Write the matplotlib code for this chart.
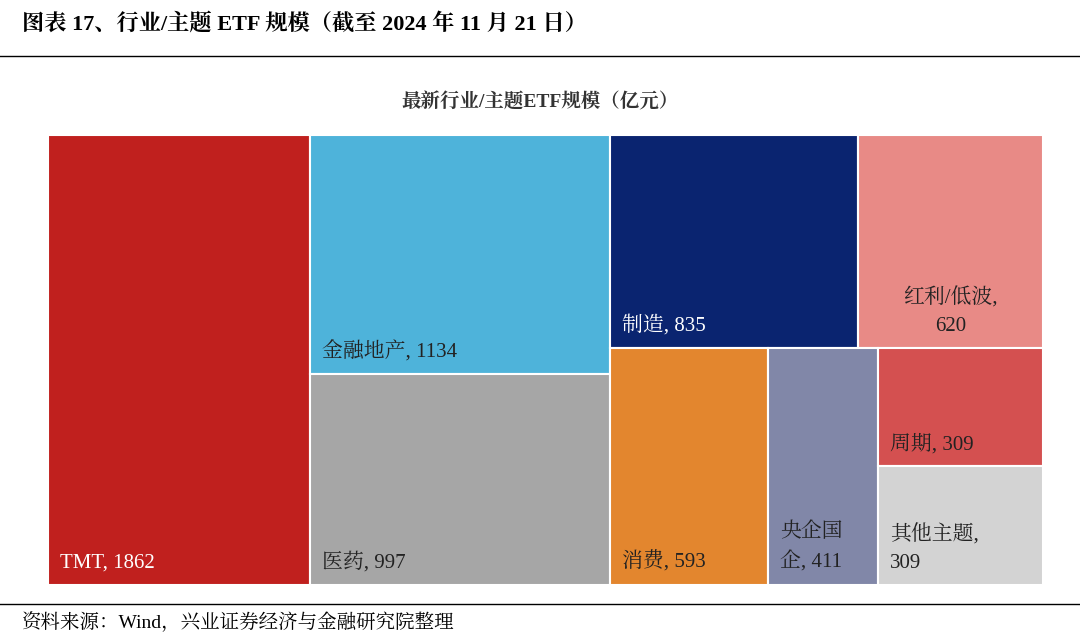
import matplotlib
matplotlib.use("Agg")
import matplotlib.pyplot as plt
from matplotlib.patches import Rectangle
from matplotlib.lines import Line2D

FONT = ["Liberation Serif", "Noto Serif CJK SC", "Noto Sans CJK SC"]
plt.rcParams["font.family"] = FONT

names = ["TMT", "金融地产", "医药", "制造", "红利/低波", "消费", "央企国企", "周期", "其他主题"]
values = [1862, 1134, 997, 835, 620, 593, 411, 309, 309]
colors = ["#C0201E", "#4EB3DA", "#A6A6A6", "#0A2470", "#E88A86",
          "#E3862E", "#8187A8", "#D45050", "#D3D3D3"]
labels = ["TMT, 1862", "金融地产, 1134", "医药, 997", "制造, 835", "红利/低波,\n620",
          "消费, 593", "央企国\n企, 411", "周期, 309", "其他主题,\n309"]
text_colors = ["white", "#222", "#222", "white", "#222", "#222", "#222", "#222", "#222"]

# partition tree: ("h"=split along x, "v"=split along y, children), leaves are indices
tree = ("h", [0, ("v", [1, 2]), ("v", [("h", [3, 4]), ("h", [5, 6, ("v", [7, 8])])])])


def total(node):
    if isinstance(node, int):
        return values[node]
    return sum(total(c) for c in node[1])


def layout(node, x, y, w, h, out):
    if isinstance(node, int):
        out[node] = (x, y, w, h)
        return
    kind, kids = node
    s = total(node)
    for c in kids:
        f = total(c) / s
        if kind == "h":
            layout(c, x, y, w * f, h, out); x += w * f
        else:
            layout(c, x, y, w, h * f, out); y += h * f


W, H = 1080, 639
fig = plt.figure(figsize=(W / 100, H / 100), dpi=100)
X0, Y0, PW, PH = 48, 135, 995, 450
ax = fig.add_axes([X0 / W, 1 - (Y0 + PH) / H, PW / W, PH / H])
ax.set_xlim(0, PW); ax.set_ylim(PH, 0); ax.set_axis_off()

rects = {}
layout(tree, 0, 0, PW, PH, rects)
for i, (x, y, w, h) in rects.items():
    ax.add_patch(Rectangle((x, y), w, h, facecolor=colors[i], edgecolor="white", lw=1.5))
    lab = labels[i]
    if i == 4:
        ax.text(x + w / 2, y + h - 12, lab, ha="center", va="bottom", fontsize=15,
                color=text_colors[i], linespacing=1.6)
    else:
        ax.text(x + 12, y + h - 12, lab, ha="left", va="bottom", fontsize=15,
                color=text_colors[i], linespacing=1.6)

fig.text(22 / W, 1 - 25 / H, "图表 17、行业/主题 ETF 规模（截至 2024 年 11 月 21 日）",
         fontsize=16, fontweight="bold", va="center", ha="left")
fig.add_artist(Line2D([0, 1], [1 - 56 / H] * 2, color="black", lw=1))
fig.text(540 / W, 1 - 102 / H, "最新行业/主题ETF规模（亿元）", fontsize=14,
         fontweight="bold", va="center", ha="center", color="#333")
fig.add_artist(Line2D([0, 1], [1 - 604 / H] * 2, color="black", lw=1))
fig.text(22 / W, 1 - 622 / H, "资料来源：Wind，兴业证券经济与金融研究院整理",
         fontsize=14, va="center", ha="left")

fig.savefig("out.png", dpi=100)
